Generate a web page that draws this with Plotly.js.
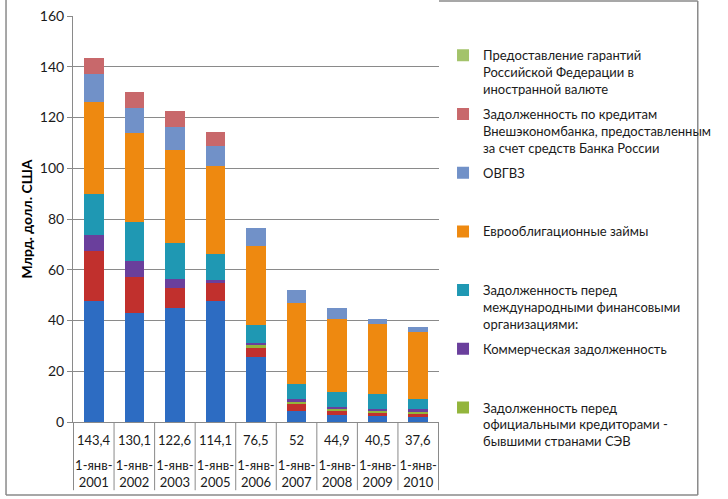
<!DOCTYPE html>
<html>
<head>
<meta charset="utf-8">
<script src="https://cdn.plot.ly/plotly-3.0.1.min.js"></script>
<style>
  html, body { margin: 0; padding: 0; background: #fff; }
  #chart { width: 728px; height: 499px; }
</style>
</head>
<body>
<div id="chart"></div>
<script>
// dates of the stock (1 January of each year), totals under the bars
var dates = ['1-янв-<br>2001', '1-янв-<br>2002', '1-янв-<br>2003', '1-янв-<br>2005', '1-янв-<br>2006',
             '1-янв-<br>2007', '1-янв-<br>2008', '1-янв-<br>2009', '1-янв-<br>2010'];
var totals = ['143,4', '130,1', '122,6', '114,1', '76,5', '52', '44,9', '40,5', '37,6'];

// components, bottom of the stack first (bn USD)
var parisClub    = [47.7, 42.8, 44.8, 47.7, 25.7, 4.2, 2.8, 2.4, 2.0];
var nonParisClub = [19.7, 14.5, 8.1, 7.0, 3.3, 2.8, 1.6, 1.1, 1.0];
var exSev        = [0, 0, 0, 0, 1.4, 1.0, 0.8, 0.9, 0.9];
var commercial   = [6.3, 6.3, 3.6, 1.3, 0.8, 0.9, 0.7, 0.9, 1.2];
var ifi          = [16.2, 15.1, 13.9, 10.2, 6.9, 6.1, 5.9, 5.6, 4.0];
var eurobonds    = [36.3, 35.1, 36.9, 34.8, 31.1, 31.8, 28.7, 27.7, 26.5];
var ovgvz        = [10.9, 9.8, 9.1, 7.8, 7.3, 5.2, 4.4, 1.9, 2.0];
var vebCredits   = [6.3, 6.5, 6.2, 5.3, 0, 0, 0, 0, 0];
var guarantees   = [0, 0, 0, 0, 0, 0, 0, 0, 0];

var pad = '<br> <br> ';
var series = [
  {name: 'Задолженность перед странами - членами Парижского клуба', y: parisClub, color: '#2d6cc2', legend: false},
  {name: 'Задолженность перед странами - не членами Парижского клуба', y: nonParisClub, color: '#c1302d', legend: false},
  {name: 'Задолженность перед<br>официальными кредиторами -<br>бывшими странами СЭВ', y: exSev, color: '#93b53c', legend: true},
  {name: 'Коммерческая задолженность' + pad, y: commercial, color: '#6a3f9c', legend: true},
  {name: 'Задолженность перед<br>международными финансовыми<br>организациями:', y: ifi, color: '#1f98b3', legend: true},
  {name: 'Еврооблигационные займы' + pad, y: eurobonds, color: '#ee8910', legend: true},
  {name: 'ОВГВЗ' + pad, y: ovgvz, color: '#7191c8', legend: true},
  {name: 'Задолженность по кредитам<br>Внешэкономбанка, предоставленным<br>за счет средств Банка России', y: vebCredits, color: '#c8686b', legend: true},
  {name: 'Предоставление гарантий<br>Российской Федерации в<br>иностранной валюте', y: guarantees, color: '#a3c36a', legend: true}
];

var data = series.map(function(s, i) {
  return {
    type: 'bar',
    name: s.name,
    x: dates,
    y: s.y,
    legendgroup: 'g' + i,
    legendrank: 100 - i,
    showlegend: s.legend,
    marker: {color: s.color, line: {width: 0}},
    hoverinfo: 'y+name'
  };
});

var grey = '#8a8a8a';
var textFont = {family: 'Lato, "Open Sans", sans-serif', size: 13, color: '#1a1a1a'};

// table under the axis: totals row and separators between categories
var annotations = totals.map(function(t, i) {
  return {
    x: dates[i], xref: 'x', y: 0, yref: 'paper',
    yanchor: 'top', yshift: -8,
    text: t, showarrow: false, font: textFont
  };
});

var shapes = [];
for (var i = 0; i <= dates.length; i++) {
  shapes.push({type: 'line', xref: 'x', yref: 'paper', x0: i - 0.5, x1: i - 0.5, y0: 0, y1: -0.168,
               line: {color: grey, width: 1}});
}
// outer frame of the chart area
shapes.push({type: 'line', xref: 'paper', yref: 'paper', x0: -0.183, x1: -0.183, y0: 1.04, y1: -0.18, line: {color: grey, width: 1.5}});
shapes.push({type: 'line', xref: 'paper', yref: 'paper', x0: -0.183, x1: 1.707, y0: -0.18, y1: -0.18, line: {color: grey, width: 1.5}});
shapes.push({type: 'line', xref: 'paper', yref: 'paper', x0: 1.707, x1: 1.707, y0: 1.037, y1: -0.18, line: {color: grey, width: 1.5}});
shapes.push({type: 'line', xref: 'paper', yref: 'paper', x0: 1.0, x1: 1.707, y0: 1.037, y1: 1.037, line: {color: grey, width: 1.5}});

var layout = {
  width: 728,
  height: 499,
  margin: {l: 73, r: 273, t: 16, b: 77},
  paper_bgcolor: '#ffffff',
  plot_bgcolor: '#ffffff',
  font: textFont,
  barmode: 'stack',
  bargap: 0.52,
  xaxis: {
    type: 'category',
    showgrid: false,
    showline: true,
    linecolor: grey,
    linewidth: 1,
    ticks: '',
    ticklabelstandoff: 31,
    tickfont: textFont,
    fixedrange: true
  },
  yaxis: {
    range: [0, 160],
    dtick: 20,
    showgrid: true,
    gridcolor: grey,
    gridwidth: 1,
    zeroline: false,
    showline: true,
    linecolor: grey,
    linewidth: 1,
    ticks: 'outside',
    ticklen: 5,
    tickcolor: grey,
    tickfont: {family: 'Lato, "Open Sans", sans-serif', size: 14, color: '#1a1a1a'},
    title: {
      text: 'Млрд. долл. США',
      font: {family: 'Lato, "Open Sans", sans-serif', size: 14, color: '#000', weight: 'bold'},
      standoff: 3
    },
    fixedrange: true
  },
  legend: {
    x: 1.011,
    xanchor: 'left',
    y: 0.94,
    yanchor: 'top',
    traceorder: 'grouped',
    tracegroupgap: 5,
    valign: 'top',
    font: textFont,
    bgcolor: 'rgba(0,0,0,0)'
  },
  annotations: annotations,
  shapes: shapes
};

Plotly.newPlot('chart', data, layout, {displayModeBar: false, staticPlot: true});
</script>
</body>
</html>
